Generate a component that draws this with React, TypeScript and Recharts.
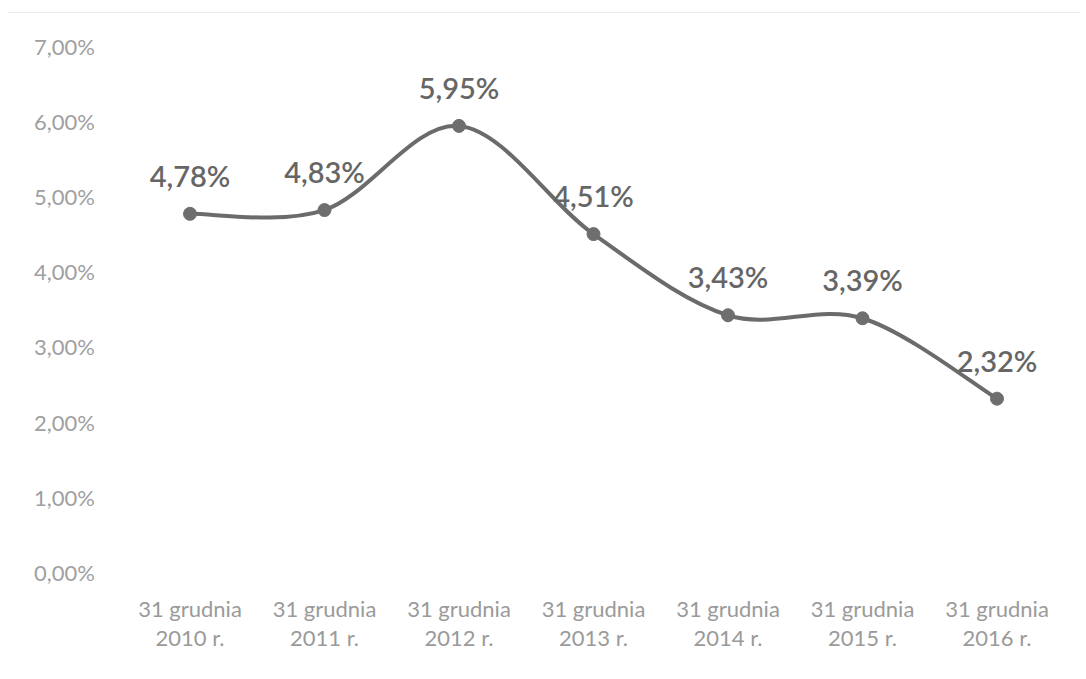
import React from 'react';
import { LineChart, Line, XAxis, YAxis, LabelList } from 'recharts';

const categories = [
  '31 grudnia 2010 r.',
  '31 grudnia 2011 r.',
  '31 grudnia 2012 r.',
  '31 grudnia 2013 r.',
  '31 grudnia 2014 r.',
  '31 grudnia 2015 r.',
  '31 grudnia 2016 r.',
];
const rates = [4.78, 4.83, 5.95, 4.51, 3.43, 3.39, 2.32];
const yTicks = [0, 1, 2, 3, 4, 5, 6, 7];

const data = categories.map((name, i) => ({ name, rate: rates[i] }));

const fmt = (v: number) => v.toFixed(2).replace('.', ',') + '%';

// Excel-like smoothed line (Catmull-Rom through the points)
const smoothCurve = (context: any) => {
  let pts: number[][] = [];
  return {
    areaStart() {},
    areaEnd() {},
    lineStart() {
      pts = [];
    },
    point(x: number, y: number) {
      pts.push([+x, +y]);
    },
    lineEnd() {
      if (!pts.length) return;
      context.moveTo(pts[0][0], pts[0][1]);
      for (let i = 0; i < pts.length - 1; i++) {
        const p0 = pts[i - 1] || pts[i];
        const p1 = pts[i];
        const p2 = pts[i + 1];
        const p3 = pts[i + 2] || p2;
        context.bezierCurveTo(
          p1[0] + (p2[0] - p0[0]) / 6,
          p1[1] + (p2[1] - p0[1]) / 6,
          p2[0] - (p3[0] - p1[0]) / 6,
          p2[1] - (p3[1] - p1[1]) / 6,
          p2[0],
          p2[1]
        );
      }
    },
  };
};

const XTick = (props: any) => {
  const { x, y, payload } = props;
  const text: string = payload.value;
  const idx = text.indexOf(' ', 3);
  const first = text.slice(0, idx);
  const second = text.slice(idx + 1);
  return (
    <text x={x} y={y} textAnchor="middle" fill="#9a9a9a" fontSize={22} fontFamily="Lato">
      <tspan x={x} dy={44}>{first}</tspan>
      <tspan x={x} dy={29}>{second}</tspan>
    </text>
  );
};

const PointLabel = (props: any) => {
  const { x, y, value } = props;
  return (
    <text
      x={x}
      y={y - 27}
      textAnchor="middle"
      fill="#666"
      fontSize={29}
      fontWeight={600}
      fontFamily="Lato"
    >
      {fmt(value)}
    </text>
  );
};

export default function App() {
  return (
    <div style={{ position: 'absolute', left: 0, top: 0, width: 1086, height: 679, background: '#fff' }}>
      <div style={{ position: 'absolute', left: 8, top: 12, width: 1072, height: 1, background: '#ececec' }} />
      <LineChart width={1086} height={679} data={data} margin={{ top: 47, right: 22, bottom: 0, left: 0 }}>
        <XAxis
          dataKey="name"
          axisLine={false}
          tickLine={false}
          tickSize={0}
          tickMargin={0}
          height={106}
          interval={0}
          padding={{ left: 67, right: 67 }}
          tick={<XTick />}
        />
        <YAxis
          domain={[0, 7]}
          ticks={yTicks}
          tickFormatter={fmt}
          axisLine={false}
          tickLine={false}
          tickSize={0}
          tickMargin={28}
          width={123}
          tick={{ fill: '#a0a0a0', fontSize: 22, fontFamily: 'Lato' }}
        />
        <Line
          dataKey="rate"
          type={smoothCurve as any}
          stroke="#6b6b6b"
          strokeWidth={4}
          dot={{ r: 6.5, fill: '#6e6e6e', stroke: '#6e6e6e', strokeWidth: 1 }}
          activeDot={false}
          isAnimationActive={false}
        >
          <LabelList dataKey="rate" content={<PointLabel />} />
        </Line>
      </LineChart>
    </div>
  );
}
